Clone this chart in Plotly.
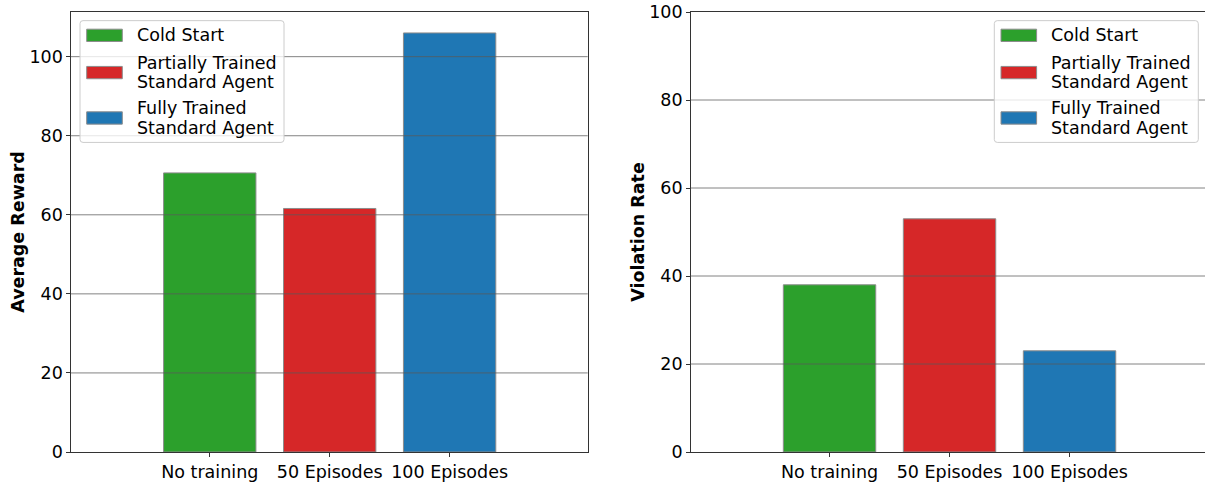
import plotly.graph_objects as go

# ---- data ----
categories = ["No training", "50 Episodes", "100 Episodes"]
series_names = ["Cold Start", "Partially Trained\nStandard Agent", "Fully Trained\nStandard Agent"]
average_reward = [70.6, 61.6, 106.0]
violation_rate = [38.0, 53.0, 23.0]
bar_colors = ["#2ca02c", "#d62728", "#1f77b4"]
reward_ticks = [0, 20, 40, 60, 80, 100]
violation_ticks = [0, 20, 40, 60, 80, 100]

# ---- canvas geometry (px) ----
W, H = 1205, 482
ML, MR, MT, MB = 71, 0, 12, 27
PW, PH = W - ML - MR, H - MT - MB

FONT = "DejaVu Sans"
SPINE = "#333333"
GRID = "rgba(90,90,90,0.75)"
EDGE = "#8c8c8c"
FS = 17.5


def px_x(px):
    return (px - ML) / PW


def px_y(py):
    return (H - MB - py) / PH


left_dom = [0.0, px_x(587.7)]
right_dom = [px_x(690.7), 1.0]
unit = 120.0  # px per category slot
x_lo = -1.157
left_range = [x_lo, x_lo + (587.7 - 70.7) / unit]
right_range = [x_lo, x_lo + (W - 690.7) / unit]

reward_top = max(average_reward) * 1.05

fig = go.Figure()

for i, name in enumerate(series_names):
    fig.add_trace(go.Bar(
        x=[categories[i]], y=[average_reward[i]], name=name.replace("\n", " "),
        marker=dict(color=bar_colors[i], line=dict(color=EDGE, width=1)),
        width=0.77, xaxis="x", yaxis="y", showlegend=False,
    ))
    fig.add_trace(go.Bar(
        x=[categories[i]], y=[violation_rate[i]], name=name.replace("\n", " "),
        marker=dict(color=bar_colors[i], line=dict(color=EDGE, width=1)),
        width=0.77, xaxis="x2", yaxis="y2", showlegend=False,
    ))

axis_common = dict(
    showline=True, linecolor=SPINE, linewidth=1.2,
    ticks="outside", ticklen=3.5, tickwidth=1, tickcolor=SPINE,
    showgrid=False, zeroline=False, fixedrange=True,
    tickfont=dict(family=FONT, size=FS, color="black"),
)

title_font = dict(family=FONT, size=FS, color="black", weight="bold")

fig.update_layout(
    width=W, height=H,
    margin=dict(l=ML, r=MR, t=MT, b=MB),
    paper_bgcolor="white", plot_bgcolor="white",
    barmode="overlay",
    font=dict(family=FONT, size=FS, color="black"),
    xaxis=dict(domain=left_dom, anchor="y", type="category",
               categoryorder="array", categoryarray=categories,
               range=left_range, mirror=True, **axis_common),
    yaxis=dict(domain=[0, 1], anchor="x", range=[0, reward_top],
               tickvals=reward_ticks, mirror=True, ticklabelstandoff=0,
               title=dict(text="Average Reward", standoff=0, font=title_font),
               **axis_common),
    xaxis2=dict(domain=right_dom, anchor="y2", type="category",
                categoryorder="array", categoryarray=categories,
                range=right_range, mirror=True, **axis_common),
    yaxis2=dict(domain=[0, 1], anchor="x2", range=[0, 100],
                tickvals=violation_ticks, mirror=False, ticklabelstandoff=0,
                title=dict(text="Violation Rate", standoff=0, font=title_font),
                **axis_common),
)

# horizontal grid drawn over the bars
for ax, ticks, top in (("", reward_ticks, reward_top), ("2", violation_ticks, 100)):
    for t in ticks:
        if 0 < t < top:
            fig.add_shape(type="line", xref=f"x{ax} domain", yref=f"y{ax}",
                          x0=0, x1=1, y0=t, y1=t,
                          line=dict(color=GRID, width=1), layer="above")


def rounded_box(x0, y0, x1, y1, r):
    X = lambda v: px_x(v)
    Y = lambda v: px_y(v)
    return (f"M {X(x0 + r)} {Y(y0)} L {X(x1 - r)} {Y(y0)} "
            f"Q {X(x1)} {Y(y0)} {X(x1)} {Y(y0 + r)} L {X(x1)} {Y(y1 - r)} "
            f"Q {X(x1)} {Y(y1)} {X(x1 - r)} {Y(y1)} L {X(x0 + r)} {Y(y1)} "
            f"Q {X(x0)} {Y(y1)} {X(x0)} {Y(y1 - r)} L {X(x0)} {Y(y0 + r)} "
            f"Q {X(x0)} {Y(y0)} {X(x0 + r)} {Y(y0)} Z")


def add_legend(bx, by):
    bw, bh = 204, 122.6
    fig.add_shape(type="path", xref="paper", yref="paper",
                  path=rounded_box(bx, by, bx + bw, by + bh, 3),
                  fillcolor="rgba(255,255,255,0.8)",
                  line=dict(color="#cccccc", width=1), layer="above")
    centers = [14.8, 52.3, 98.0]
    for name, color, cy in zip(series_names, bar_colors, centers):
        yc = by + cy
        fig.add_shape(type="rect", xref="paper", yref="paper",
                      x0=px_x(bx + 6.7), x1=px_x(bx + 42.3),
                      y0=px_y(yc - 6.2), y1=px_y(yc + 6.2),
                      fillcolor=color, line=dict(color=EDGE, width=1), layer="above")
        lines = name.split("\n")
        step = 19.5
        first = yc - step * (len(lines) - 1) / 2
        for k, line in enumerate(lines):
            fig.add_annotation(xref="paper", yref="paper",
                               x=px_x(bx + 56.7 - 2), y=px_y(first + k * step),
                               xanchor="left", yanchor="middle", showarrow=False,
                               text=line, font=dict(family=FONT, size=FS, color="black"))


add_legend(80.0, 20.7)
add_legend(994.3, 20.7)

fig.write_html("out.html")
